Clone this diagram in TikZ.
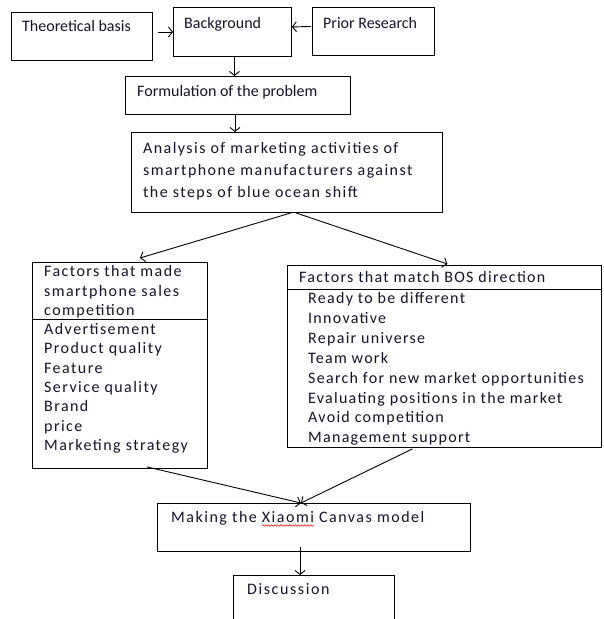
\documentclass[tikz,border=0pt]{standalone}
\usepackage{fontspec}
\setmainfont{Carlito}
\usetikzlibrary{arrows.meta,calc,decorations.pathmorphing}
\definecolor{ink}{RGB}{20,20,40}
\begin{document}
\begin{tikzpicture}[x=1pt,y=-1pt,
  box/.style={draw=black, line width=0.9pt, inner sep=0pt, anchor=north west},
  txt/.style={inner sep=0pt, anchor=base west, text=ink, font=\fontsize{16}{19}\selectfont},
  sp/.style={txt, font=\fontsize{16}{19}\addfontfeature{LetterSpace=#1}\selectfont},
  arr/.style={draw=black, line width=0.9pt, -{Straight Barb[length=4pt,width=10pt]}}]
\useasboundingbox (0,0) rectangle (604,619);
% boxes
\node[box, minimum width=141pt, minimum height=48pt] (theo) at (11,12) {};
\node[box, minimum width=118pt, minimum height=49pt] (bg) at (173,7) {};
\node[box, minimum width=122pt, minimum height=48pt] (prior) at (312,7) {};
\node[box, minimum width=225pt, minimum height=38pt] (form) at (125,76) {};
\node[box, minimum width=311pt, minimum height=80pt] (ana) at (131,132) {};
\node[box, minimum width=175pt, minimum height=206pt] (left) at (32,262) {};
\node[box, minimum width=314pt, minimum height=182pt] (right) at (287,265) {};
\node[box, minimum width=313pt, minimum height=48pt] (canvas) at (157,503) {};
\node[box, minimum width=161pt, minimum height=60pt] (disc) at (233,575) {};
% dividers
\draw[line width=0.9pt] (left.west |- 0,319) -- (left.east |- 0,319);
\draw[line width=0.9pt] (right.west |- 0,289) -- (right.east |- 0,289);
% texts
\node[txt] (t1) at (22,31.5) {Theoretical basis};
\node[txt] (t2) at (184,28.5) {Background};
\node[txt] (t3) at (323,28.5) {Prior Research};
\node[txt] (t4) at (137,96.5) {Formulation of the problem};
\node[sp=9] (a1) at (143,153.5) {Analysis of marketing activities of};
\node[sp=9] (a2) at (143,175.5) {smartphone manufacturers against};
\node[sp=9] (a3) at (143,197.5) {the steps of blue ocean shift};
\foreach \t [count=\i] in {Factors that made, smartphone sales, competition}
  \node[sp=9] (lh\i) at (44,{276.5+(\i-1)*19.5}) {\t};
\foreach \t [count=\i] in {Advertisement, Product quality, Feature, Service quality, Brand, price, Marketing strategy}
  \node[sp=9] (li\i) at (44,{334.5+(\i-1)*19.3}) {\t};
\node[sp=8] (rh) at (299,282.5) {Factors that match BOS direction};
\foreach \t [count=\i] in {Ready to be different, Innovative, Repair universe, Team work, Search for new market opportunities, Evaluating positions in the market, Avoid competition, Management support}
  \node[sp=8] (ri\i) at (308,{303.5+(\i-1)*19.9}) {\t};
\node[sp=9.5] (m1) at (171,522.5) {Making the};
\node[sp=9.5] (m2) at ([xshift=4.6pt]m1.base east) {Xiaomi};
\node[sp=9.5] (m3) at ([xshift=4.6pt]m2.base east) {Canvas model};
\draw[red, line width=0.5pt, decorate, decoration={snake, amplitude=0.8pt, segment length=3pt}]
  ([yshift=-3pt]m2.base west) -- ([yshift=-3pt]m2.base east);
\node[sp=10] (d1) at (247,594.5) {Discussion};
% connector coordinates
\coordinate (c1) at ($(bg.south)+(2,0)$);
\coordinate (c2) at ($(form.south)+(-3,0)$);
\coordinate (c3) at ($(canvas.south)+(-14,-5)$);
% arrows
\draw[arr] ($(theo.east |- bg.west)+(5,0)$) -- (bg.west);
\draw[arr] ($(prior.west)+(-1,-5)$) -- ($(bg.east)+(0,-5)$);
\draw[arr] (c1) -- (c1 |- form.north);
\draw[arr] (c2) -- (c2 |- ana.north);
\draw[arr] ($(ana.south)+(4,0)$) -- ($(left.north)+(20,-4)$);
\draw[arr] ($(ana.south)+(9,0)$) -- ($(right.north)+(3,-1)$);
\draw[arr] ($(left.south)+(27,-2)$) -- ($(canvas.north)+(-13,0)$);
\draw[arr] ($(right.south)+(-32,1)$) -- ($(canvas.north)+(-13,0)$);
\draw[arr] (c3) -- (c3 |- disc.north);
\end{tikzpicture}
\end{document}
